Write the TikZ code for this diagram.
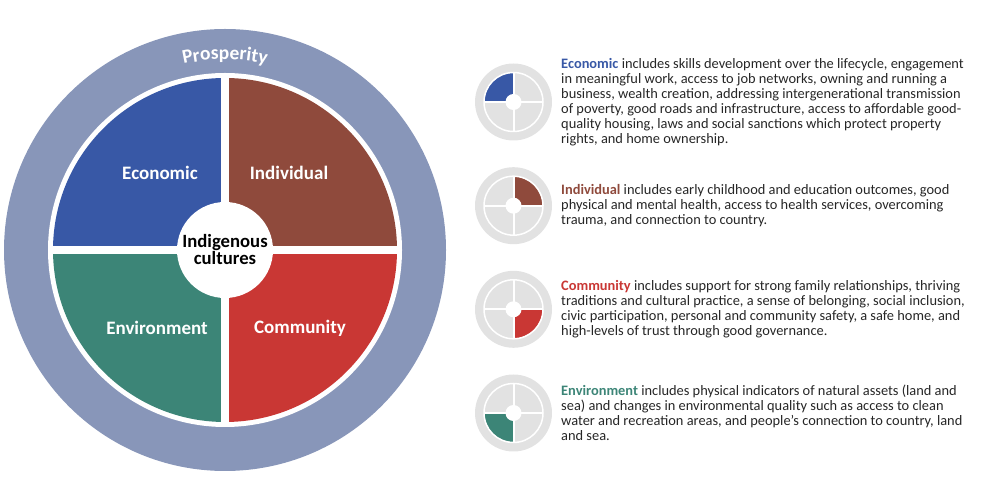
\documentclass[tikz,border=0pt]{standalone}
\usepackage{fontspec}
\setmainfont{Carlito}
\usetikzlibrary{decorations.text}
\definecolor{WellRing}{HTML}{8896B9}
\definecolor{WellEcon}{HTML}{3858A6}
\definecolor{WellIndiv}{HTML}{8F4A3C}
\definecolor{WellComm}{HTML}{C93734}
\definecolor{WellEnv}{HTML}{3C8577}
\definecolor{WellGray}{HTML}{E2E2E2}
\definecolor{WellText}{HTML}{262626}
\newcommand\prosfont{\fontsize{19.5}{19}\selectfont\bfseries}
\tikzset{
  quadlabel/.style={font=\fontsize{19}{20}\selectfont\bfseries, text=white, inner sep=0pt},
  corelabel/.style={font=\fontsize{18.7}{17}\selectfont\bfseries, text=black, align=center, inner sep=0pt},
  desc/.style={anchor=west, align=left, inner sep=0pt, text=WellText,
               font=\fontsize{14.4}{15}\selectfont},
  gap/.style={draw=white, line width=8pt},
}

\begin{document}
\begin{tikzpicture}[x=1pt, y=1pt]
  \useasboundingbox (0,0) rectangle (1000,500);

  \def\Ro{221}
  \def\Rw{177}
  \def\Rq{172}
  \begin{scope}[shift={(225,250)}]
    \fill[WellRing] (0,0) circle[radius=\Ro];
    \fill[white] (0,0) circle[radius=\Rw];
    \fill[WellEcon]  (0,0) -- (180:\Rq) arc[start angle=180, end angle=90, radius=\Rq] -- cycle;
    \fill[WellIndiv] (0,0) -- (90:\Rq) arc[start angle=90, end angle=0, radius=\Rq] -- cycle;
    \fill[WellComm]  (0,0) -- (0:\Rq) arc[start angle=0, end angle=-90, radius=\Rq] -- cycle;
    \fill[WellEnv]   (0,0) -- (-90:\Rq) arc[start angle=-90, end angle=-180, radius=\Rq] -- cycle;
    \draw[gap] (-\Rw,0) -- (\Rw,0) (0,-\Rw) -- (0,\Rw);
    \fill[white] (0,0) circle[radius=48];

    % ring title bent over the top
    \path[decorate, decoration={text along path, text align=center, text color=white,
          text={|\prosfont|Prosperity}}]
      (115:190.5) arc[start angle=115, end angle=65, radius=190.5];

    \node[quadlabel] (econLabel)  at (-65,77)  {Economic};
    \node[quadlabel] (indivLabel) at (64,77)   {Individual};
    \node[quadlabel] (envLabel)   at (-68,-78) {Environment};
    \node[quadlabel] (commLabel)  at (75,-78)  {Community};
    \node[corelabel] (core)       at (0,0)     {Indigenous\\cultures};
  \end{scope}

  % small key wheels, one quadrant lit each
  \foreach \y/\a/\c [count=\i] in {398/90/WellEcon, 294.3/0/WellIndiv,
                                   190.7/270/WellComm, 87/180/WellEnv}{
    \begin{scope}[shift={(513.5,\y)}]
      \coordinate (icon\i) at (0,0);
      \fill[WellGray] (0,0) circle[radius=38.5];
      \fill[\c] (0,0) -- (\a:29) arc[start angle=\a, delta angle=90, radius=29] -- cycle;
      \draw[white, line width=1.5pt] (0,0) circle[radius=29.5];
      \draw[white, line width=2pt] (-29.5,0) -- (29.5,0) (0,-29.5) -- (0,29.5);
      \fill[white] (0,0) circle[radius=8];
    \end{scope}
  }

  \node[desc] (econText) at (561,398) {\textcolor{WellEcon}{\bfseries Economic} includes skills development over the lifecycle, engagement\\
    in meaningful work, access to job networks, owning and running a\\
    business, wealth creation, addressing intergenerational transmission\\
    of poverty, good roads and infrastructure, access to affordable good-\\
    quality housing, laws and social sanctions which protect property\\
    rights, and home ownership.};
  \node[desc] (indivText) at (561,294.3) {\textcolor{WellIndiv}{\bfseries Individual} includes early childhood and education outcomes, good\\
    physical and mental health, access to health services, overcoming\\
    trauma, and connection to country.};
  \node[desc] (commText) at (561,190.7) {\textcolor{WellComm}{\bfseries Community} includes support for strong family relationships, thriving\\
    traditions and cultural practice, a sense of belonging, social inclusion,\\
    civic participation, personal and community safety, a safe home, and\\
    high-levels of trust through good governance.};
  \node[desc] (envText) at (561,87) {\textcolor{WellEnv}{\bfseries Environment} includes physical indicators of natural assets (land and\\
    sea) and changes in environmental quality such as access to clean\\
    water and recreation areas, and people’s connection to country, land\\
    and sea.};
\end{tikzpicture}
\end{document}
